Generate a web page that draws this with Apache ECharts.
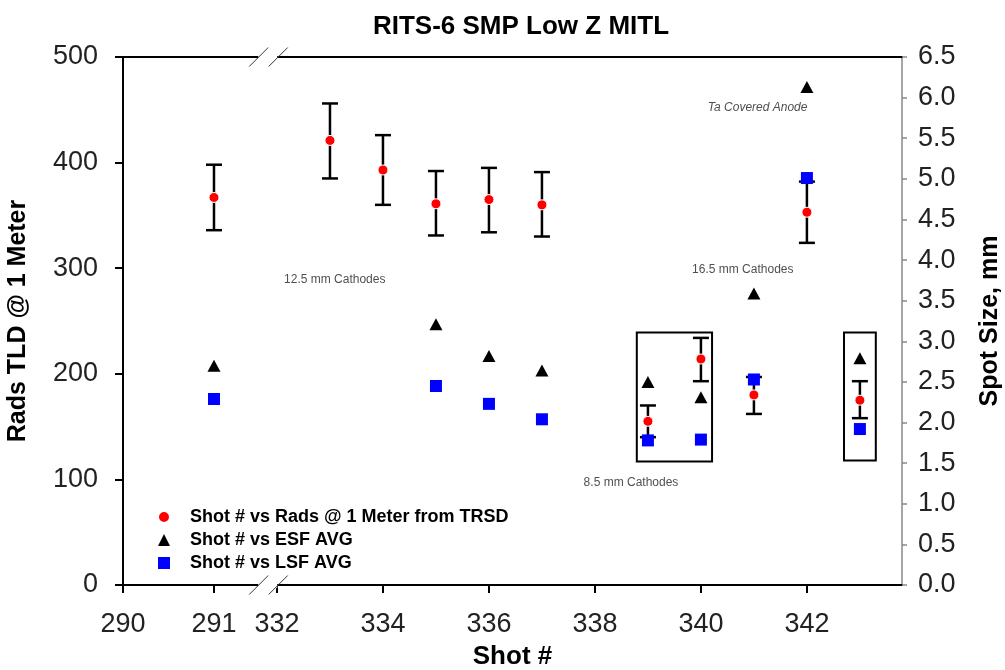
<!DOCTYPE html>
<html><head><meta charset="utf-8">
<script src="https://cdn.jsdelivr.net/npm/echarts@6/dist/echarts.min.js"></script>
<style>html,body{margin:0;padding:0;background:#fff}#c{width:1005px;height:670px}</style>
</head><body><div id="c"></div>
<script>
// ---- data ----
const shots      = [291, 333, 334, 335, 336, 337, 339, 340, 341, 342, 343];
const rads       = [367, 421, 393, 361, 365, 360, 155, 214, 180, 353, 175];
const radsHigh   = [398, 456, 426, 392, 395, 391, 170, 234, 197, 382, 193];
const radsLow    = [336, 385, 360, 331, 334, 330, 140, 193, 162, 324, 158];
const spotShots  = [291, 335, 336, 337, 339, 340, 341, 342, 343];
const esfAvg     = [2.70, 3.21, 2.82, 2.64, 2.50, 2.31, 3.59, 6.13, 2.79];
const lsfAvg     = [2.29, 2.45, 2.23, 2.04, 1.78, 1.79, 2.53, 5.01, 1.92];
const xTickShots = [290, 291, 332, 334, 336, 338, 340, 342];
const notes = [
  {shot: 333.09, y: 289, text: '12.5 mm Cathodes', italic: false},
  {shot: 340.79, y: 299, text: '16.5 mm Cathodes', italic: false},
  {shot: 338.68, y: 97,  text: '8.5 mm Cathodes',  italic: false},
  {shot: 341.07, y: 452, text: 'Ta Covered Anode', italic: true}
];
const boxes = [
  {from: 338.79, to: 340.21, low: 117, high: 239},
  {from: 342.70, to: 343.30, low: 118, high: 239}
];
const names = ['Shot # vs Rads @ 1 Meter from TRSD', 'Shot # vs ESF AVG', 'Shot # vs LSF AVG'];

// broken x axis: 290-291 segment, then 332... segment
function xPos(s) { return s < 300 ? (s - 290) * 91 / 53 : (s - 332) + 154 / 53; }
const xMax = 14.7;
const breakPos = 2.74;
const FONT = 'Liberation Sans, Arial, sans-serif';

const chart = echarts.init(document.getElementById('c'));
const option = {
  animation: false,
  backgroundColor: '#fff',
  title: {
    text: 'RITS-6 SMP Low Z MITL', left: 516, top: 9, textAlign: 'center',
    textStyle: {fontFamily: FONT, fontSize: 26, fontWeight: 'bold', color: '#000'}
  },
  grid: {left: 123, right: 103, top: 57, bottom: 85, containLabel: false, outerBoundsMode: 'none'},
  legend: {
    orient: 'vertical', left: 152, top: 503, itemWidth: 12, itemHeight: 12, itemGap: 5,
    textStyle: {fontFamily: FONT, fontSize: 18, fontWeight: 'bold', color: '#000', padding: [0, 0, 0, 15]},
    data: [{name: names[0], icon: 'circle'}, {name: names[1], icon: 'triangle'}, {name: names[2], icon: 'rect'}]
  },
  xAxis: [{
    type: 'value', min: 0, max: xMax, position: 'bottom',
    name: 'Shot #', nameLocation: 'middle', nameGap: 59,
    nameTextStyle: {fontFamily: FONT, fontSize: 26, fontWeight: 'bold', color: '#000'},
    axisLine: {onZero: false, lineStyle: {color: '#000', width: 2}},
    axisTick: {show: true, inside: false, length: 8, lineStyle: {color: '#000', width: 2},
      customValues: xTickShots.map(xPos)},
    axisLabel: {fontFamily: FONT, fontSize: 27, color: '#222', margin: 26,
      customValues: xTickShots.map(xPos),
      formatter: v => { const s = xTickShots.find(t => Math.abs(xPos(t) - v) < 1e-6); return s === undefined ? '' : String(s); }},
    splitLine: {show: false}
  }, {
    type: 'value', min: 0, max: xMax, position: 'top',
    axisLine: {show: true, onZero: false, lineStyle: {color: '#000', width: 2}},
    axisTick: {show: false}, axisLabel: {show: false}, splitLine: {show: false}
  }],
  yAxis: [{
    type: 'value', min: 0, max: 500, interval: 100, position: 'left',
    name: 'Rads TLD @ 1 Meter', nameLocation: 'middle', nameGap: 92, nameRotate: 90,
    nameTextStyle: {fontFamily: FONT, fontSize: 25, fontWeight: 'bold', color: '#000'},
    axisLine: {show: true, onZero: false, lineStyle: {color: '#000', width: 2}},
    axisTick: {show: true, length: 8, lineStyle: {color: '#000', width: 2}},
    axisLabel: {fontFamily: FONT, fontSize: 27, color: '#222', margin: 25},
    splitLine: {show: false}
  }, {
    type: 'value', min: 0, max: 6.5, interval: 0.5, position: 'right',
    name: 'Spot Size, mm', nameLocation: 'middle', nameGap: 76, nameRotate: 90,
    nameTextStyle: {fontFamily: FONT, fontSize: 25, fontWeight: 'bold', color: '#000'},
    axisLine: {show: true, onZero: false, lineStyle: {color: '#888', width: 1.5}},
    axisTick: {show: true, length: 5, lineStyle: {color: '#888', width: 1.5}},
    axisLabel: {fontFamily: FONT, fontSize: 27, color: '#222', margin: 16, formatter: v => v.toFixed(1)},
    splitLine: {show: false}
  }],
  series: [
    {
      type: 'custom', name: 'err', xAxisIndex: 0, yAxisIndex: 0, z: 2, silent: true,
      encode: {x: 0, y: [1, 2]},
      data: shots.map((s, i) => [xPos(s), radsLow[i], radsHigh[i]]),
      renderItem: (params, api) => {
        const x = api.value(0);
        const lo = api.coord([x, api.value(1)]);
        const hi = api.coord([x, api.value(2)]);
        const w = 8, st = {stroke: '#000', lineWidth: 2.5};
        return {type: 'group', children: [
          {type: 'line', shape: {x1: lo[0], y1: lo[1], x2: hi[0], y2: hi[1]}, style: st},
          {type: 'line', shape: {x1: hi[0] - w, y1: hi[1], x2: hi[0] + w, y2: hi[1]}, style: st},
          {type: 'line', shape: {x1: lo[0] - w, y1: lo[1], x2: lo[0] + w, y2: lo[1]}, style: st}
        ]};
      },
      markArea: {
        silent: true,
        itemStyle: {color: 'rgba(0,0,0,0)', borderColor: '#000', borderWidth: 2},
        data: boxes.map(b => [{xAxis: xPos(b.from), yAxis: b.low}, {xAxis: xPos(b.to), yAxis: b.high}])
      }
    },
    {
      type: 'scatter', name: names[0], xAxisIndex: 0, yAxisIndex: 0, z: 3,
      symbol: 'circle', symbolSize: 10,
      itemStyle: {color: '#ff0000', borderColor: '#fff', borderWidth: 1, opacity: 1},
      data: shots.map((s, i) => [xPos(s), rads[i]])
    },
    {
      type: 'scatter', name: names[1], xAxisIndex: 0, yAxisIndex: 1, z: 4,
      symbol: 'triangle', symbolSize: [13, 12],
      itemStyle: {color: '#000', opacity: 1},
      data: spotShots.map((s, i) => [xPos(s), esfAvg[i]])
    },
    {
      type: 'scatter', name: names[2], xAxisIndex: 0, yAxisIndex: 1, z: 4,
      symbol: 'rect', symbolSize: 12,
      itemStyle: {color: '#0000ff', opacity: 1},
      data: spotShots.map((s, i) => [xPos(s), lsfAvg[i]])
    },
    {
      type: 'scatter', name: 'notes', xAxisIndex: 0, yAxisIndex: 0, z: 5, silent: true,
      symbolSize: 0,
      data: notes.map(n => ({
        value: [xPos(n.shot), n.y],
        label: {show: true, position: 'inside', formatter: n.text,
          fontFamily: FONT, fontSize: 12, color: '#222', fontStyle: n.italic ? 'italic' : 'normal'}
      }))
    }
  ]
};
chart.setOption(option);

// axis-break marks
const bx = chart.convertToPixel({xAxisIndex: 0}, breakPos);
const yTop = chart.convertToPixel({yAxisIndex: 0}, 500);
const yBot = chart.convertToPixel({yAxisIndex: 0}, 0);
const g = [];
[yTop, yBot].forEach(y => {
  g.push({type: 'rect', shape: {x: bx - 10, y: y - 3, width: 19, height: 6}, style: {fill: '#fff'}, z: 100});
  [bx - 9.5, bx + 10].forEach(cx => {
    g.push({type: 'line', shape: {x1: cx - 9.5, y1: y + 9.5, x2: cx + 9.5, y2: y - 9.5},
      style: {stroke: '#333', lineWidth: 1}, z: 101});
  });
});
chart.setOption({graphic: g});
</script>
</body></html>
